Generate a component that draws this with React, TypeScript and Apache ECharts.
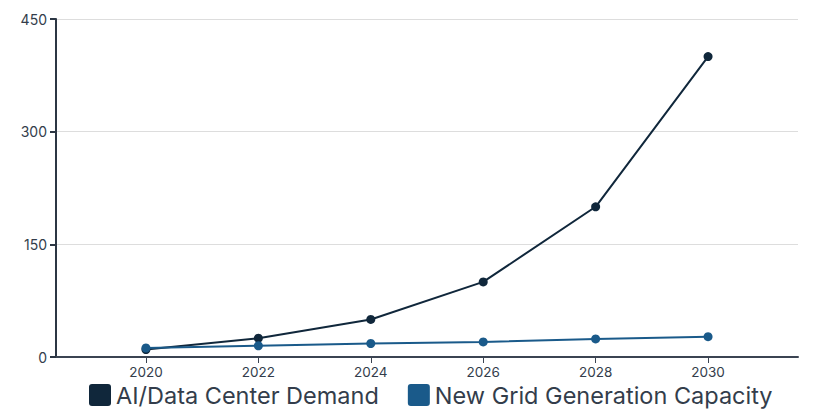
import React, { useEffect, useRef } from "react";
import * as echarts from "echarts";

const years = [2020, 2022, 2024, 2026, 2028, 2030];
const aiDemand = [10, 25, 50, 100, 200, 400];
const gridCapacity = [12, 15, 18, 20, 24, 27];
const yTicks = [0, 150, 300, 450];

const icon =
  "path://M3,0 H19 A3,3 0 0 1 22,3 V19 A3,3 0 0 1 19,22 H3 A3,3 0 0 1 0,19 V3 A3,3 0 0 1 3,0 Z";

export default function App() {
  const ref = useRef<HTMLDivElement>(null);
  useEffect(() => {
    const chart = echarts.init(ref.current!, null, { renderer: "svg" });
    const font = "Inter, 'Noto Sans', sans-serif";
    chart.setOption({
      animation: false,
      textStyle: { fontFamily: font },
      grid: { left: 48, right: 8, top: 11, bottom: 53, containLabel: false },
      legend: {
        bottom: 3,
        left: 81,
        padding: 0,
        itemWidth: 22,
        itemHeight: 22,
        itemGap: 29,
        icon,
        textStyle: { fontSize: 23.5, lineHeight: 22, color: "#333d4b", fontFamily: font },
        data: ["AI/Data Center Demand", "New Grid Generation Capacity"],
      },
      xAxis: {
        type: "value",
        min: 2018.4,
        max: 2031.6,
        axisLine: { lineStyle: { color: "#3b4452", width: 2 } },
        axisTick: { show: true, customValues: years, length: 6, lineStyle: { color: "#3b4452" } },
        axisLabel: {
          customValues: years,
          color: "#333d4b",
          fontSize: 13.5,
          margin: 8,
          formatter: (v: number) => String(v),
        },
        splitLine: { show: false },
      },
      yAxis: {
        type: "value",
        min: 0,
        max: 450,
        interval: 150,
        axisLine: { show: true, lineStyle: { color: "#2c3644", width: 2 } },
        axisTick: { show: true, length: 6, lineStyle: { color: "#2c3644", width: 2 } },
        axisLabel: {
          color: "#333d4b",
          fontSize: 14,
          margin: 9,
          customValues: yTicks,
        },
        splitLine: { show: true, lineStyle: { color: "#dddddd", width: 1 } },
      },
      series: [
        {
          name: "AI/Data Center Demand",
          type: "line",
          data: years.map((y, i) => [y, aiDemand[i]]),
          symbol: "circle",
          symbolSize: 9,
          itemStyle: { color: "#10273b" },
          lineStyle: { color: "#10273b", width: 2 },
          z: 3,
        },
        {
          name: "New Grid Generation Capacity",
          type: "line",
          data: years.map((y, i) => [y, gridCapacity[i]]),
          symbol: "circle",
          symbolSize: 9,
          itemStyle: { color: "#1a5a8a" },
          lineStyle: { color: "#1a5a8a", width: 2 },
          z: 4,
        },
      ],
    });
    return () => chart.dispose();
  }, []);
  return <div ref={ref} style={{ width: 798, height: 402 }} />;
}
